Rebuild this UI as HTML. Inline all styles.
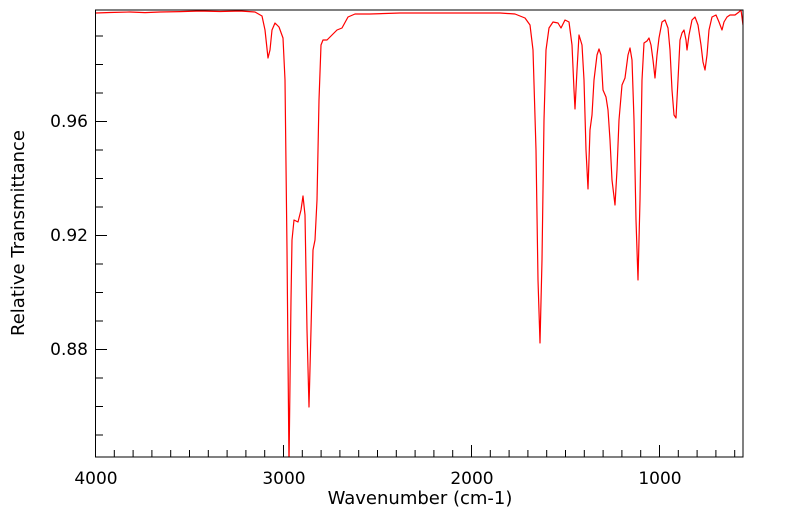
<!DOCTYPE html>
<html><head><meta charset="utf-8"><style>
html,body{margin:0;padding:0;background:#fff;}
svg{display:block;font-family:"DejaVu Sans","Liberation Sans",sans-serif;}
</style></head><body>
<svg width="799" height="516" viewBox="0 0 799 516" xmlns="http://www.w3.org/2000/svg">
<rect width="799" height="516" fill="#fff"/>
<defs><clipPath id="c"><rect x="95.5" y="10" width="648" height="447"/></clipPath></defs>
<polyline clip-path="url(#c)" fill="none" stroke="#ff0000" stroke-width="1.2" stroke-linejoin="round" points="96,13 110,12.5 130,12 145,12.6 160,12 180,11.6 200,11 220,11.5 240,11 255,12 262,16 265,30 268,58 270,50 272,30 275,23 279,27 283,38 285,80 287,250 289,465 291,300 292,240 294,220 298,222 301,210 303,196 305,215 307,330 309,407 311,330 313,250 315,240 317,200 319,100 321,45 323,40 327,40 332,35 337,30 342,28 348,17 355,14 370,14 400,13 450,13 500,13 515,14 525,18 530,25 533,50 536,150 538,280 540,343 542,260 544,120 546,50 549,28 553,22 558,23 561,28 565,20 569,22 572,45 574,90 575,109 577,70 579,35 582,45 584,80 586,150 588,189 590,130 592,115 594,80 597,55 599,49 601,55 603,90 606,97 608,110 610,140 612,180 615,205 617,170 619,120 622,85 625,78 628,55 630,48 632,60 634,120 636,220 638,280 640,200 642,80 644,43 647,41 649,38 651,45 653,60 655,78 657,55 659,38 662,22 665,20 668,28 670,50 672,90 674,115 676,118 678,80 680,40 682,33 684,30 686,40 687,50 689,35 692,20 695,17 698,25 701,45 703,62 705,70 707,55 709,30 712,17 716,15 719,22 722,30 724,22 727,17 730,15 735,15 739,12 741,10 743,25"/>
<rect x="95.5" y="10" width="647.5" height="447" fill="none" stroke="#000" stroke-width="1"/>
<path stroke="#000" stroke-width="1" fill="none" d="
M95.5 457V445 M114.3 457V450 M133.1 457V450 M151.9 457V450 M170.7 457V450 M189.5 457V450 M208.3 457V450 M227.1 457V450 M245.9 457V450 M264.7 457V450
M283.5 457V445 M302.3 457V450 M321.1 457V450 M339.9 457V450 M358.7 457V450 M377.5 457V450 M396.3 457V450 M415.1 457V450 M433.9 457V450 M452.7 457V450
M471.5 457V445 M490.3 457V450 M509.1 457V450 M527.9 457V450 M546.7 457V450 M565.5 457V450 M584.3 457V450 M603.1 457V450 M621.9 457V450 M640.7 457V450
M659.5 457V445 M678.3 457V450 M697.1 457V450 M715.9 457V450 M734.7 457V450
M95.5 36H103 M95.5 64.5H103 M95.5 93H103 M95.5 121.5H107 M95.5 150H103 M95.5 178.5H103 M95.5 207H103 M95.5 235.5H107 M95.5 264H103 M95.5 292.5H103 M95.5 321H103 M95.5 349.5H107 M95.5 378H103 M95.5 406.5H103 M95.5 435H103"/>
<g font-size="17" fill="#000" text-anchor="end">
<text x="88" y="127">0.96</text>
<text x="88" y="241">0.92</text>
<text x="88" y="355">0.88</text>
</g>
<g font-size="17" fill="#000" text-anchor="middle">
<text x="96" y="484">4000</text>
<text x="284" y="484">3000</text>
<text x="472" y="484">2000</text>
<text x="660" y="484">1000</text>
</g>
<text x="420" y="504" font-size="18" text-anchor="middle">Wavenumber (cm-1)</text>
<text transform="translate(24,233) rotate(-90)" font-size="18" text-anchor="middle">Relative Transmittance</text>
</svg>
</body></html>
